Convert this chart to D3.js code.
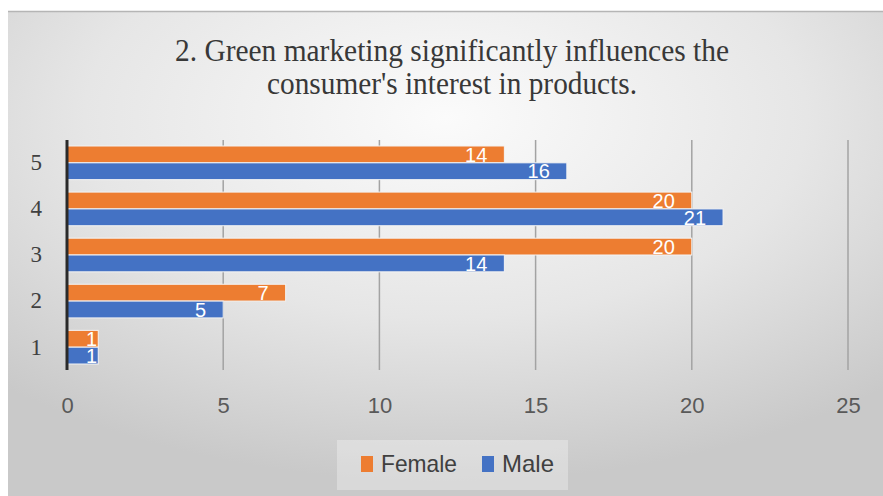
<!DOCTYPE html>
<html>
<head>
<meta charset="utf-8">
<script src="https://cdn.jsdelivr.net/npm/d3@7"></script>
<style>
  body { margin: 0; background: #fff; }
  svg { display: block; }
</style>
</head>
<body>
<div id="chart"></div>
<script>
// data
var categories = ["5", "4", "3", "2", "1"];
var seriesNames = ["Female", "Male"];
var female = [14, 20, 20, 7, 1];
var male = [16, 21, 14, 5, 1];
var xTicks = [0, 5, 10, 15, 20, 25];
var titleLines = ["2. Green marketing significantly influences the", "consumer's interest in products."];

var colors = { Female: "#ED7D31", Male: "#4472C4" };

var W = 883, H = 496;
var svg = d3.select("#chart").append("svg")
  .attr("width", W)
  .attr("height", H);

// background panel
var defs = svg.append("defs");
var grad = defs.append("radialGradient")
  .attr("id", "bg")
  .attr("cx", "50%").attr("cy", "22%").attr("r", "75%");
grad.append("stop").attr("offset", "0%").attr("stop-color", "#fbfbfb");
grad.append("stop").attr("offset", "55%").attr("stop-color", "#e6e6e6");
grad.append("stop").attr("offset", "100%").attr("stop-color", "#c9c9c9");

svg.append("rect")
  .attr("x", 8).attr("y", 11)
  .attr("width", W - 8).attr("height", H - 11)
  .attr("fill", "url(#bg)");
svg.append("line")
  .attr("x1", 8).attr("x2", W).attr("y1", 11.5).attr("y2", 11.5)
  .attr("stroke", "#b5b5b5").attr("stroke-width", 1.5);

// title
svg.append("text")
  .attr("text-anchor", "middle")
  .attr("font-family", "'Liberation Serif', 'Times New Roman', serif")
  .attr("font-size", 31)
  .attr("fill", "#383838")
  .selectAll("tspan")
  .data(titleLines)
  .enter().append("tspan")
  .attr("x", 452)
  .attr("y", function(d, i) { return 61 + i * 33; })
  .attr("textLength", function(d, i) { return i == 0 ? 554 : 370; })
  .attr("lengthAdjust", "spacingAndGlyphs")
  .text(function(d) { return d; });

// scales
var x = d3.scaleLinear().domain([0, 25]).range([67, 848]);
var y = d3.scaleBand().domain(categories).range([140, 370])
  .paddingInner(0.27).paddingOuter(0.13);
var y1 = d3.scaleBand().domain(seriesNames).range([0, y.bandwidth()]);

// gridlines
svg.append("g")
  .selectAll("line")
  .data(xTicks.filter(function(d) { return d > 0; }))
  .enter().append("line")
  .attr("x1", function(d) { return x(d); })
  .attr("x2", function(d) { return x(d); })
  .attr("y1", 140).attr("y2", 370)
  .attr("stroke", "#a3a3a3")
  .attr("stroke-width", 1.5);

// x tick labels
var xAxis = svg.append("g")
  .attr("transform", "translate(0,370)")
  .call(d3.axisBottom(x).tickValues(xTicks).tickSize(0).tickPadding(27));
xAxis.select(".domain").remove();
xAxis.selectAll("text")
  .attr("font-family", "'Liberation Sans', Arial, sans-serif")
  .attr("font-size", 22)
  .attr("fill", "#595959");

// y labels
var yAxis = svg.append("g")
  .attr("transform", "translate(67,0)")
  .call(d3.axisLeft(y).tickSize(0).tickPadding(25));
yAxis.select(".domain").remove();
yAxis.selectAll("text")
  .attr("font-family", "'Liberation Serif', 'Times New Roman', serif")
  .attr("font-size", 23)
  .attr("fill", "#404040");

// bars
var rows = categories.map(function(c, i) {
  return { cat: c, values: [
    { key: "Female", value: female[i] },
    { key: "Male", value: male[i] }
  ] };
});

var groups = svg.append("g")
  .selectAll("g")
  .data(rows)
  .enter().append("g")
  .attr("transform", function(d) { return "translate(0," + y(d.cat) + ")"; });

groups.selectAll("rect")
  .data(function(d) { return d.values; })
  .enter().append("rect")
  .attr("x", x(0))
  .attr("y", function(d) { return y1(d.key); })
  .attr("width", function(d) { return x(d.value) - x(0); })
  .attr("height", y1.bandwidth())
  .attr("fill", function(d) { return colors[d.key]; })
  .attr("stroke", "#f4f4f4")
  .attr("stroke-width", 1);

// labels sit inside the bar end; tiny bars keep them at the end
groups.selectAll("text")
  .data(function(d) { return d.values; })
  .enter().append("text")
  .attr("x", function(d) { return Math.max(x(d.value) - 17, x(0) + 30); })
  .attr("y", function(d) { return y1(d.key) + y1.bandwidth() / 2; })
  .attr("dy", "0.36em")
  .attr("text-anchor", "end")
  .attr("font-family", "'Liberation Sans', Arial, sans-serif")
  .attr("font-size", 20)
  .attr("fill", "#ffffff")
  .text(function(d) { return d.value; });

// y axis line
svg.append("line")
  .attr("x1", x(0)).attr("x2", x(0))
  .attr("y1", 140).attr("y2", 370)
  .attr("stroke", "#2a2a2a")
  .attr("stroke-width", 3);

// legend
var legend = svg.append("g");
legend.append("rect")
  .attr("x", 337).attr("y", 440)
  .attr("width", 231).attr("height", 50)
  .attr("fill", "#ffffff").attr("fill-opacity", 0.3);

var items = legend.selectAll("g")
  .data(seriesNames)
  .enter().append("g")
  .attr("transform", function(d, i) { return "translate(" + (i == 0 ? 361 : 482) + ",0)"; });
items.append("rect")
  .attr("x", 0).attr("y", 456)
  .attr("width", 12).attr("height", 16)
  .attr("fill", function(d) { return colors[d]; });
items.append("text")
  .attr("x", 20).attr("y", 472)
  .attr("font-family", "'Liberation Sans', Arial, sans-serif")
  .attr("font-size", 24)
  .attr("fill", "#404040")
  .attr("textLength", function(d) { return d == "Female" ? 76 : 52; })
  .attr("lengthAdjust", "spacingAndGlyphs")
  .text(function(d) { return d; });
</script>
</body>
</html>
